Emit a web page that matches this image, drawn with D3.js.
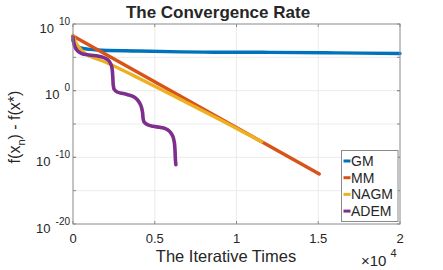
<!DOCTYPE html>
<html lang="en">
    <head>
        <meta charset="utf-8">
        <title>The Convergence Rate</title>
        <script type="text/javascript" src="https://cdn.jsdelivr.net/npm/d3@7/dist/d3.min.js"></script>
        <style>
            body { margin: 0; background: #fff; }
            text { font-family: "Liberation Sans", Arial, sans-serif; fill: #262626; }
        </style>
    </head>
    <body>
        <div class="chart"></div>
        <script type="text/javascript">
            // series: iteration count and f(x_n) - f(x*)
            var gmIter = [0, 100, 300, 700, 1500, 4000, 8000, 12000, 16000, 20000];
            var gmVal = [4e7, 1e7, 4e6, 2e6, 1.25e6, 9e5, 6e5, 5.6e5, 4.7e5, 3.8e5];

            var mmIter = [0, 15064];
            var mmVal = [1.6e8, 3.2e-13];

            var nagmIter = [0, 150, 400, 800, 1300, 2000, 4000, 6850, 9000, 11540];
            var nagmVal = [2e8, 2e7, 2.5e6, 3e5, 8e4, 1.8e4, 80, 0.022, 4.3e-5, 2.2e-8];

            var ademIter = [0, 60, 200, 500, 1000, 1500, 1850, 2150, 2350, 2430, 2460, 2520, 2700, 3000, 3350, 3700,
                            3950, 4150, 4250, 4290, 4350, 4550, 4900, 5300, 5650, 5900, 6100, 6200, 6240, 6260, 6290];
            var ademVal = [1.2e8, 1e7, 1.6e6, 4e5, 2.2e5, 1.6e5, 1e5, 4e4, 6e3, 1.6e2, 8, 1.6, 0.63, 0.4, 0.25, 0.126,
                           0.04, 6.3e-3, 6.3e-4, 6.3e-5, 2e-5, 8e-6, 4.5e-6, 3.2e-6, 2e-6, 8e-7, 1.6e-7, 1.6e-8, 1e-9, 6.3e-11, 8e-12];

            var seriesNames = ["GM", "MM", "NAGM", "ADEM"];
            var seriesColors = ["#0072BD", "#D95319", "#EDB120", "#7E2F8E"];
            var xTicks = [0, 5000, 10000, 15000, 20000];
            var xTickLabels = ["0", "0.5", "1", "1.5", "2"];
            var yTicks = [1e-20, 1e-10, 1, 1e10];
            var yTickExp = ["-20", "-10", "0", "10"];
            var yGrid = [1e-15, 1e-10, 1e-5, 1, 1e5];

            var w = 443, h = 270;
            var pL = 73, pR = 400, pT = 24, pB = 224;  // plot box

            var svg = d3.select("div.chart").append("svg")
                        .attr("width", w).attr("height", h);

            var x = d3.scaleLinear().domain([0, 20000]).range([pL, pR]);
            var y = d3.scaleLog().domain([1e-20, 1e10]).range([pB, pT]);

            // grid
            svg.selectAll("line.xg").data(xTicks.slice(1, -1)).enter().append("line")
               .attr("x1", function(d){ return x(d); }).attr("x2", function(d){ return x(d); })
               .attr("y1", pT).attr("y2", pB)
               .attr("stroke", "#ebebeb").attr("stroke-width", 1);
            svg.selectAll("line.yg").data(yGrid).enter().append("line")
               .attr("x1", pL).attr("x2", pR)
               .attr("y1", function(d){ return y(d); }).attr("y2", function(d){ return y(d); })
               .attr("stroke", "#ebebeb").attr("stroke-width", 1);

            // lines
            var all = [[gmIter, gmVal], [mmIter, mmVal], [nagmIter, nagmVal], [ademIter, ademVal]];
            var line = d3.line()
                         .x(function(d){ return x(d[0]); })
                         .y(function(d){ return y(d[1]); })
                         .curve(d3.curveCatmullRom.alpha(0.5));
            all.forEach(function(s, i){
                var pts = s[0].map(function(v, j){ return [v, s[1][j]]; });
                svg.append("path").datum(pts)
                   .attr("d", line)
                   .attr("fill", "none")
                   .attr("stroke", seriesColors[i])
                   .attr("stroke-width", i == 3 ? 3.6 : 3.4)
                   .attr("stroke-linecap", "round")
                   .attr("stroke-linejoin", "round");
            });

            // axes (box with inward ticks)
            var ax = "#8a8a8a";
            svg.append("rect").attr("x", pL).attr("y", pT)
               .attr("width", pR - pL).attr("height", pB - pT)
               .attr("fill", "none").attr("stroke", ax).attr("stroke-width", 1);
            xTicks.forEach(function(d){
                svg.append("line").attr("x1", x(d)).attr("x2", x(d)).attr("y1", pB).attr("y2", pB - 3).attr("stroke", ax);
                svg.append("line").attr("x1", x(d)).attr("x2", x(d)).attr("y1", pT).attr("y2", pT + 3).attr("stroke", ax);
            });
            yGrid.concat(yTicks).forEach(function(d){
                svg.append("line").attr("x1", pL).attr("x2", pL + 3).attr("y1", y(d)).attr("y2", y(d)).attr("stroke", ax);
                svg.append("line").attr("x1", pR).attr("x2", pR - 3).attr("y1", y(d)).attr("y2", y(d)).attr("stroke", ax);
            });

            svg.selectAll("text.xt").data(xTicks).enter().append("text")
               .attr("x", function(d){ return x(d); }).attr("y", 243)
               .attr("text-anchor", "middle").attr("font-size", "13px")
               .text(function(d, i){ return xTickLabels[i]; });

            var yt = svg.selectAll("text.yt").data(yTicks).enter().append("text")
               .attr("x", 70).attr("y", function(d){ return y(d) + 8.5; })
               .attr("text-anchor", "end").attr("font-size", "13px");
            yt.append("tspan").text("10");
            yt.append("tspan").attr("dx", 5).attr("dy", -8).attr("font-size", "10px")
              .text(function(d, i){ return yTickExp[i]; });

            // x10^4 multiplier
            var mult = svg.append("text").attr("x", 361).attr("y", 266).attr("font-size", "15px");
            mult.append("tspan").text("\u00d710");
            mult.append("tspan").attr("dx", 4).attr("dy", -9).attr("font-size", "11px").text("4");

            // title and labels
            svg.append("text").attr("x", 218).attr("y", 18).attr("text-anchor", "middle")
               .attr("font-size", "17px").attr("font-weight", "bold").attr("fill", "#000")
               .text("The Convergence Rate");
            svg.append("text").attr("x", 226).attr("y", 262).attr("text-anchor", "middle")
               .attr("font-size", "16.5px").text("The Iterative Times");
            var yl = svg.append("text").attr("transform", "translate(20,127) rotate(-90)")
               .attr("text-anchor", "middle").attr("font-size", "16px");
            yl.append("tspan").text("f(x");
            yl.append("tspan").attr("dy", 5).attr("font-size", "11px").text("n");
            yl.append("tspan").attr("dy", -5).text(") - f(x*)");

            // legend
            svg.append("rect").attr("x", 341.5).attr("y", 150.5).attr("width", 56.5).attr("height", 71)
               .attr("fill", "#fff").attr("stroke", ax).attr("stroke-width", 1);
            seriesNames.forEach(function(n, i){
                var cy = 161 + i * 16.7;
                svg.append("line").attr("x1", 343.5).attr("x2", 350.5).attr("y1", cy).attr("y2", cy)
                   .attr("stroke", seriesColors[i]).attr("stroke-width", 3);
                svg.append("text").attr("x", 351).attr("y", cy + 5).attr("font-size", "14px").text(n);
            });
        </script>
    </body>
</html>
